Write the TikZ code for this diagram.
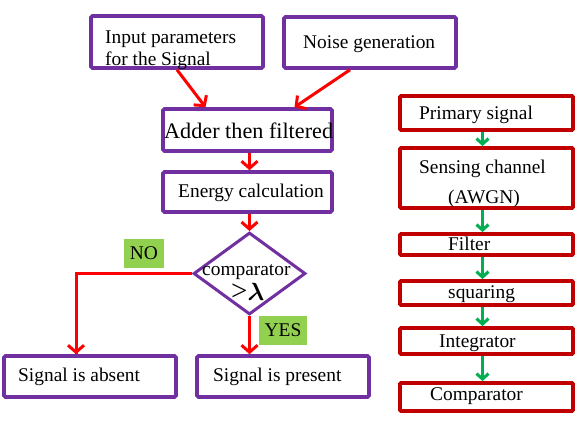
\documentclass[tikz,border=0pt]{standalone}
\usepackage{fontspec}
\usepackage{bm}
\setmainfont{Liberation Serif}
\usetikzlibrary{arrows.meta,shapes.geometric}
\definecolor{ppl}{HTML}{7030A0}
\definecolor{dred}{HTML}{C00000}
\definecolor{rline}{HTML}{FF0000}
\definecolor{gline}{HTML}{00B050}
\definecolor{lgreen}{HTML}{92D050}
\tikzset{
  pbox/.style={draw=ppl,line width=3.6pt,rounded corners=1.5pt,inner sep=0pt,rectangle},
  rbox/.style={draw=dred,line width=3.8pt,rounded corners=1pt,inner sep=0pt,rectangle,minimum width=173pt},
  txt/.style={anchor=base west,inner sep=0pt,font=\fontsize{19.4}{23}\selectfont},
  redarrow/.style={draw=rline,line width=3pt,-{Straight Barb[length=7pt,width=16pt]}},
  redline/.style={draw=rline,line width=3pt},
  grarrow/.style={draw=gline,line width=3pt,-{Straight Barb[length=5.5pt,width=12pt]}},
  tag/.style={fill=lgreen,inner sep=0pt,font=\fontsize{19.4}{23}\selectfont}
}
\begin{document}
\begin{tikzpicture}[x=1pt,y=-1pt]
\useasboundingbox (0,0) rectangle (576,424);
% left flow chart boxes
\node[pbox,minimum width=172pt,minimum height=52pt] (inp) at (177,42) {};
\node[pbox,minimum width=172pt,minimum height=51pt] (noise) at (370,42.5) {};
\node[pbox,minimum width=169pt,minimum height=42pt] (adder) at (247.5,130) {};
\node[pbox,minimum width=169pt,minimum height=40pt] (energy) at (247.5,192) {};
\node[draw=ppl,line width=3pt,shape=diamond,inner sep=0pt,minimum width=112pt,minimum height=82pt] (dia) at (249.5,273.5) {};
\node[pbox,minimum width=172pt,minimum height=41pt] (absent) at (90,376.5) {};
\node[pbox,minimum width=172pt,minimum height=41pt] (present) at (283,376.5) {};
% texts
\node[txt] (t1) at (105,43.3) {Input parameters};
\node[txt] (t2) at (105,65) {for the Signal};
\node[txt] (t3) at (303,48) {Noise generation};
\node[txt,font=\fontsize{22.2}{26}\selectfont] (t4) at (164,138) {Adder then filtered};
\node[txt] (t5) at (178,197) {Energy calculation};
\node[txt] (t6) at (202,275) {comparator};
\node[txt,font=\fontsize{29}{31}\selectfont] (t7) at (231,300) {>$\bm{\lambda}$};
\node[txt] (t8) at (18,381) {Signal is absent};
\node[txt] (t9) at (213,381) {Signal is present};
\node[tag,minimum width=40pt,minimum height=29pt] (no) at (144,253.5) {NO};
\node[tag,minimum width=48pt,minimum height=29pt] (yes) at (283,330.5) {YES};
% left connectors
\draw[redarrow] (inp.south) -- ([xshift=-42pt]adder.north);
\draw[redarrow] ([xshift=-20pt]noise.south) -- ([xshift=47pt]adder.north);
\draw[redarrow] ([xshift=2pt]adder.south) -- ([xshift=2pt]energy.north);
\draw[redarrow] ([xshift=2pt]energy.south) -- (dia.north);
\draw[redline] (dia.west) -| ([xshift=-14pt]absent.north);
\draw[redarrow] ([xshift=-14pt,yshift=40pt]absent.north) -- ([xshift=-14pt]absent.north);
\draw[redarrow] (dia.south) -- ([xshift=-33.5pt]present.north);
% right chain
\node[rbox,minimum height=34pt] (r1) at (486.5,113) {};
\node[rbox,minimum height=60pt] (r2) at (486.5,178) {};
\node[rbox,minimum height=21pt] (r3) at (486.5,244.5) {};
\node[rbox,minimum height=24pt] (r4) at (486.5,293) {};
\node[rbox,minimum height=26pt] (r5) at (486.5,341) {};
\node[rbox,minimum height=28pt] (r6) at (486.5,397) {};
\node[txt] (s1) at (419,119) {Primary signal};
\node[txt] (s2) at (419,173) {Sensing channel};
\node[txt] (s3) at (448,203) {(AWGN)};
\node[txt] (s4) at (448,250) {Filter};
\node[txt] (s5) at (448,298) {squaring};
\node[txt] (s6) at (439,347) {Integrator};
\node[txt] (s7) at (430,400) {Comparator};
\draw[grarrow] ([xshift=-4pt]r1.south) -- ([xshift=-4pt]r2.north);
\draw[grarrow] ([xshift=-4pt]r2.south) -- ([xshift=-4pt]r3.north);
\draw[grarrow] ([xshift=-4pt]r3.south) -- ([xshift=-4pt]r4.north);
\draw[grarrow] ([xshift=-4pt]r4.south) -- ([xshift=-4pt]r5.north);
\draw[grarrow] ([xshift=-4pt]r5.south) -- ([xshift=-4pt]r6.north);
\end{tikzpicture}
\end{document}
